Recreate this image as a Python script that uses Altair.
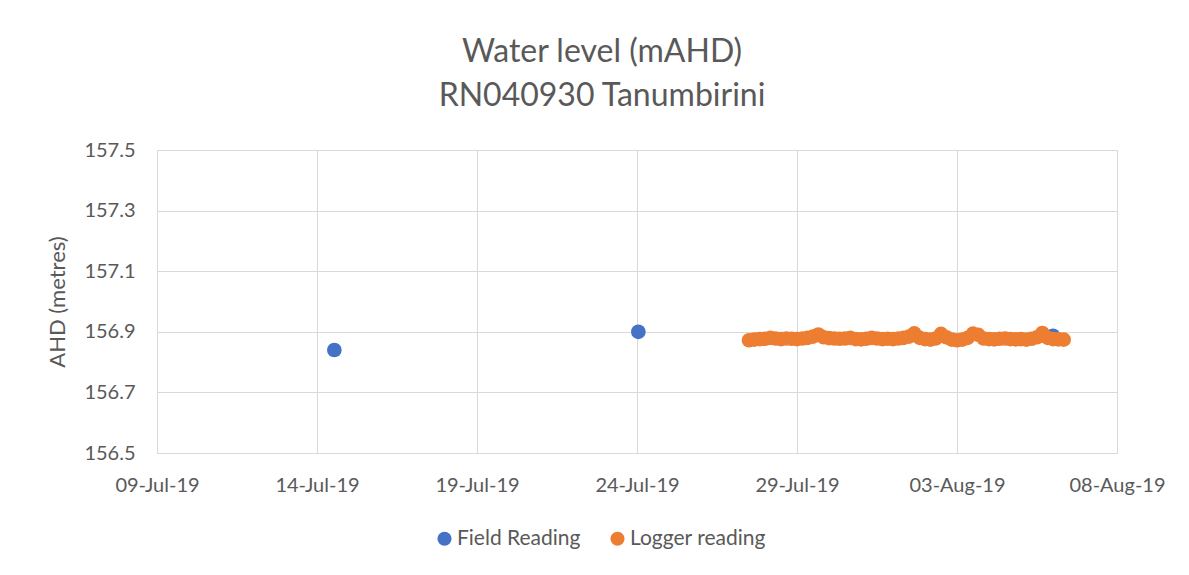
import altair as alt
import pandas as pd

# ---- data ----
field_times = ["2019-07-14T13:00:00", "2019-07-24T01:00:00", "2019-08-06T00:00:00"]
field_values = [156.84, 156.90, 156.887]

# logger records every 4 hours from 27-Jul-19 12:00 to 06-Aug-19 08:00
logger_start = "2019-07-27T12:00:00"
logger_step_hours = 4
logger_values = [
    156.872, 156.874, 156.876,                                # 27-Jul
    156.877, 156.880, 156.878, 156.876, 156.878, 156.877,     # 28-Jul
    156.876, 156.878, 156.880, 156.884, 156.891, 156.882,     # 29-Jul
    156.879, 156.878, 156.877, 156.878, 156.880, 156.876,     # 30-Jul
    156.875, 156.877, 156.880, 156.878, 156.876, 156.877,     # 31-Jul
    156.876, 156.878, 156.880, 156.884, 156.895, 156.880,     # 01-Aug
    156.876, 156.874, 156.878, 156.893, 156.882, 156.874,     # 02-Aug
    156.872, 156.874, 156.880, 156.894, 156.890, 156.878,     # 03-Aug
    156.876, 156.875, 156.877, 156.878, 156.876, 156.875,     # 04-Aug
    156.876, 156.874, 156.877, 156.882, 156.896, 156.880,     # 05-Aug
    156.876, 156.875, 156.874,                                # 06-Aug
]

series_names = ["Field Reading", "Logger reading"]
series_colors = ["#4472C4", "#ED7D31"]

x_ticks = ["2019-07-09", "2019-07-14", "2019-07-19", "2019-07-24",
           "2019-07-29", "2019-08-03", "2019-08-08"]
y_ticks = [156.5, 156.7, 156.9, 157.1, 157.3, 157.5]

# ---- table ----
logger_times = pd.date_range(logger_start, periods=len(logger_values),
                             freq=f"{logger_step_hours}h").strftime("%Y-%m-%dT%H:%M:%S").tolist()
df = pd.concat([
    pd.DataFrame({"time": field_times, "level": field_values, "series": series_names[0]}),
    pd.DataFrame({"time": logger_times, "level": logger_values, "series": series_names[1]}),
], ignore_index=True)


def dt(s):
    y, m, d = (int(p) for p in s.split("-"))
    return alt.DateTime(year=y, month=m, date=d)


FONT = "Lato"
GREY = "#595959"
GRID = "#D9D9D9"

chart = alt.Chart(df).mark_circle(size=215, opacity=1).encode(
    x=alt.X("time:T",
            scale=alt.Scale(domain=[dt(x_ticks[0]), dt(x_ticks[-1])], nice=False),
            axis=alt.Axis(values=[dt(t) for t in x_ticks], format="%d-%b-%y",
                          title=None, labelPadding=22, labelFlush=False,
                          labelOverlap=False)),
    y=alt.Y("level:Q",
            scale=alt.Scale(domain=[y_ticks[0], y_ticks[-1]], nice=False, zero=False),
            axis=alt.Axis(values=y_ticks, format=".1f", title="AHD (metres)",
                          labelPadding=22, titlePadding=14)),
    color=alt.Color("series:N",
                    scale=alt.Scale(domain=series_names, range=series_colors),
                    legend=alt.Legend(title=None, orient="none", direction="horizontal",
                                      legendX=277, legendY=378, symbolType="circle",
                                      symbolSize=200, columnPadding=26, labelOffset=2,
                                      labelFontSize=21, labelFont=FONT, labelColor=GREY)),
).properties(
    width=960,
    height=303,
    autosize=alt.AutoSizeParams(type="none"),
    padding={"left": 149, "top": 142, "right": 64, "bottom": 114},
    title=alt.Title(["Water level (mAHD)", "RN040930 Tanumbirini"],
                    anchor="middle", dx=-35, offset=27, fontSize=32, font=FONT,
                    fontWeight="normal", color=GREY, lineHeight=44),
).configure(
    background="white"
).configure_view(
    stroke=GRID, strokeWidth=1
).configure_axis(
    grid=True, gridColor=GRID, gridWidth=1, domain=True, domainColor=GRID,
    ticks=False, labelFont=FONT, labelFontSize=20, labelColor=GREY,
    titleFont=FONT, titleFontSize=22, titleColor=GREY, titleFontWeight="normal",
)

chart.save("out.html", embed_options={"renderer": "svg", "actions": False})
